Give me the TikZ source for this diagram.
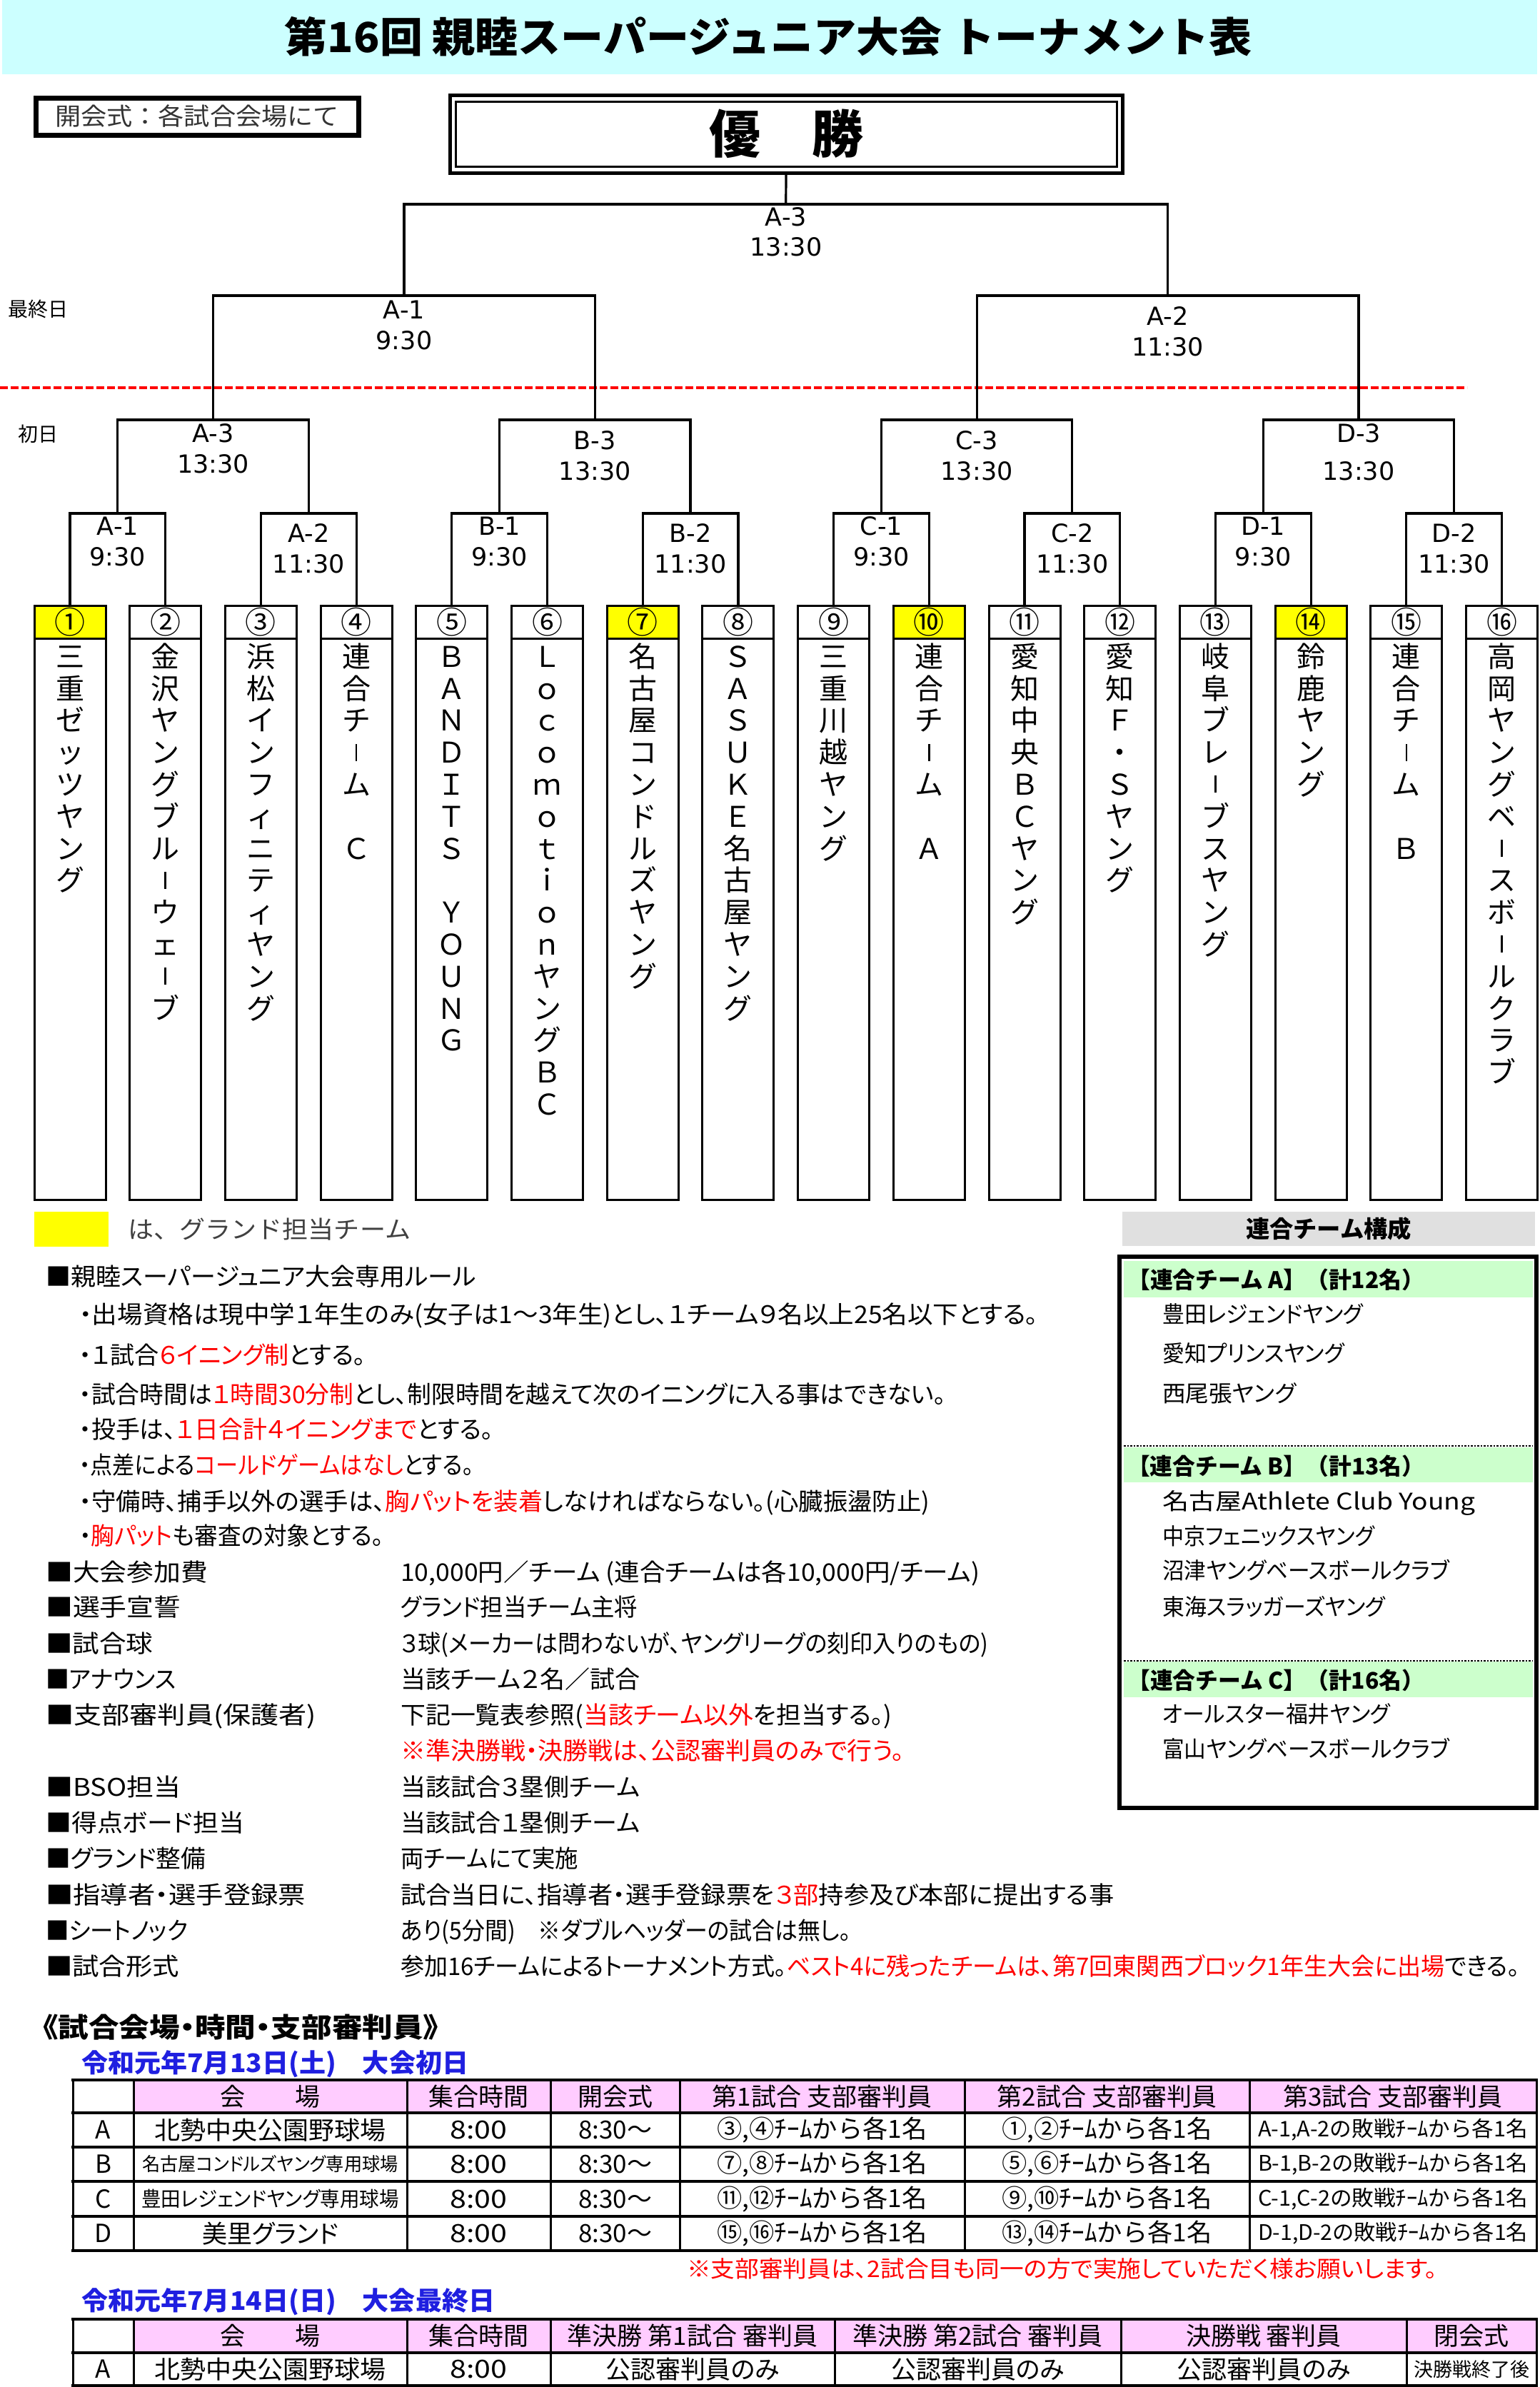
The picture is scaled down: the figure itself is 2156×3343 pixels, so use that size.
\documentclass[tikz,border=0pt]{standalone}
\usepackage{fontspec}
\usepackage{graphicx}
\setmainfont{Noto Sans CJK JP}
\newfontfamily\jpp[RawFeature=+palt]{Noto Sans CJK JP}
\newfontfamily\lblfont{DejaVu Sans}
\newcommand\myfs[1]{\fontsize{#1pt}{#1pt}\selectfont}
\newcommand\vb{\raisebox{3pt}{\rule{2.6pt}{24pt}}}
\newcommand\fitx[2]{\resizebox{#1pt}{\height}{#2}}
\definecolor{titlebg}{HTML}{CCFFFF}
\definecolor{gyellow}{HTML}{FFFF00}
\definecolor{lgreen}{HTML}{CCFFCC}
\definecolor{lpink}{HTML}{FFCCFF}
\definecolor{dblue}{HTML}{1F1FE0}
\definecolor{rred}{HTML}{FF0000}
\tikzset{
  brk/.style={line width=3.2pt},
  lbl/.style={inner sep=0pt, font=\lblfont\myfs{35}},
  teambox/.style={draw, line width=3pt, minimum width=100pt, minimum height=832pt, inner sep=0pt},
  numcell/.style={draw, line width=3pt, minimum width=100pt, minimum height=46pt, inner sep=0pt, font=\myfs{43}},
  tch/.style={inner sep=0pt, font=\myfs{40}, text height=35.2pt, text depth=4.8pt},
  ruletxt/.style={anchor=base west, inner sep=0pt, font=\jpp\myfs{34}},
  cell/.style={inner sep=0pt, font=\myfs{35}},
  pcell/.style={inner sep=0pt, font=\jpp\myfs{35}},
  hline/.style={line width=4pt},
  vline/.style={line width=3pt},
}
\newcommand\myteam[2]{\foreach \ch [count=\k from 0] in {#2}{\node[tch] (tc#1-\k) at ({98+(#1-1)*133.7},{919+\k*44.8}) {\ch};}}
\begin{document}
\begin{tikzpicture}[x=1pt,y=-1pt]
\useasboundingbox (0,0) rectangle (2156,3343);
\fill[white] (0,0) rectangle (2156,3343);
% title
\fill[titlebg] (3,0) rectangle (2153,104);
\node[font=\bfseries\myfs{58}, inner sep=0pt] (title) at (1076,51) {\fitx{1354}{第16回 親睦スーパージュニア大会 トーナメント表}};
% opening box
\node[draw, line width=7pt, minimum width=452pt, minimum height=52pt, inner sep=0pt, font=\myfs{34}, text=black!80] (open) at (276,163) {\fitx{398}{開会式：各試合会場にて}};
% champion
\node[draw, line width=5pt, minimum width=942pt, minimum height=109pt, inner sep=0pt] (champ) at (1101,187.5) {};
\node[draw, line width=3pt, minimum width=926pt, minimum height=91pt, inner sep=0pt, font=\bfseries\myfs{72}] (champin) at (1101,187.5) {優　勝};
% day labels
\node[anchor=west, font=\myfs{28}, inner sep=0pt] (lastday) at (11,433) {最終日};
\node[anchor=west, font=\myfs{28}, inner sep=0pt] (firstday) at (25,608) {初日};
% red dashed divider
\coordinate (rl1) at (0,543);
\coordinate (rl2) at (2055,543);
\draw[rred, line width=3.5pt, dash pattern=on 11pt off 4pt] (rl1) -- (rl2);
% team boxes
\foreach \i in {1,...,16}{\node[teambox] (t\i) at ({98+(\i-1)*133.7},1264) {};}
\foreach \i/\n/\c in {1/①/gyellow,2/②/white,3/③/white,4/④/white,5/⑤/white,6/⑥/white,7/⑦/gyellow,8/⑧/white,9/⑨/white,10/⑩/gyellow,11/⑪/white,12/⑫/white,13/⑬/white,14/⑭/gyellow,15/⑮/white,16/⑯/white}{
  \node[numcell, fill=\c] (n\i) at ({98+(\i-1)*133.7},871) {\n};}
% team names
\myteam{1}{三,重,ゼ,ッ,ツ,ヤ,ン,グ}
\myteam{2}{金,沢,ヤ,ン,グ,ブ,ル,\vb,ウ,ェ,\vb,ブ}
\myteam{3}{浜,松,イ,ン,フ,ィ,ニ,テ,ィ,ヤ,ン,グ}
\myteam{4}{連,合,チ,\vb,ム,　,Ｃ}
\myteam{5}{Ｂ,Ａ,Ｎ,Ｄ,Ｉ,Ｔ,Ｓ,　,Ｙ,Ｏ,Ｕ,Ｎ,Ｇ}
\myteam{6}{Ｌ,ｏ,ｃ,ｏ,ｍ,ｏ,ｔ,ｉ,ｏ,ｎ,ヤ,ン,グ,Ｂ,Ｃ}
\myteam{7}{名,古,屋,コ,ン,ド,ル,ズ,ヤ,ン,グ}
\myteam{8}{Ｓ,Ａ,Ｓ,Ｕ,Ｋ,Ｅ,名,古,屋,ヤ,ン,グ}
\myteam{9}{三,重,川,越,ヤ,ン,グ}
\myteam{10}{連,合,チ,\vb,ム,　,Ａ}
\myteam{11}{愛,知,中,央,Ｂ,Ｃ,ヤ,ン,グ}
\myteam{12}{愛,知,Ｆ,・,Ｓ,ヤ,ン,グ}
\myteam{13}{岐,阜,ブ,レ,\vb,ブ,ス,ヤ,ン,グ}
\myteam{14}{鈴,鹿,ヤ,ン,グ}
\myteam{15}{連,合,チ,\vb,ム,　,Ｂ}
\myteam{16}{高,岡,ヤ,ン,グ,ベ,\vb,ス,ボ,\vb,ル,ク,ラ,ブ}
% bracket apexes
\foreach \k in {1,...,8}{\coordinate (p\k) at ({98+(2*\k-1.5)*133.7},719);}
\foreach \j in {1,...,4}{\coordinate (q\j) at ({98+(4*\j-2.5)*133.7},588);}
\foreach \i in {1,2}{\coordinate (s\i) at ({98+(8*\i-4.5)*133.7},414);}
\coordinate (f) at (1100.75,286);
% brackets
\foreach \k in {1,...,8}{\pgfmathtruncatemacro\ka{2*\k-1}\pgfmathtruncatemacro\kb{2*\k}
  \draw[brk] (t\ka.north) |- (p\k) -| (t\kb.north);}
\foreach \j in {1,...,4}{\pgfmathtruncatemacro\ka{2*\j-1}\pgfmathtruncatemacro\kb{2*\j}
  \draw[brk] (p\ka) |- (q\j) -| (p\kb);}
\draw[brk] (q1) |- (s1) -| (q2);
\draw[brk] (q3) |- (s2) -| (q4);
\draw[brk] (s1) |- (f) -| (s2);
\draw[brk] (champ.south) -- (f);
% match labels
\foreach \k/\nm/\tm/\ya in {1/A-1/9:30/737,2/A-2/11:30/747,3/B-1/9:30/737,4/B-2/11:30/747,5/C-1/9:30/737,6/C-2/11:30/747,7/D-1/9:30/737,8/D-2/11:30/747}{
  \node[lbl] (la\k) at ({98+(2*\k-1.5)*133.7},\ya) {\nm};
  \node[lbl] (lb\k) at ({98+(2*\k-1.5)*133.7},{\ya+43}) {\tm};}
\foreach \j/\nm/\ya/\yb in {1/A-3/607/650,2/B-3/617/660,3/C-3/617/660,4/D-3/607/660}{
  \node[lbl] (ma\j) at ({98+(4*\j-2.5)*133.7},\ya) {\nm};
  \node[lbl] (mb\j) at ({98+(4*\j-2.5)*133.7},\yb) {13:30};}
\node[lbl] (sa1) at (566,434) {A-1};
\node[lbl] (sb1) at (566,477) {9:30};
\node[lbl] (sa2) at (1635.6,443) {A-2};
\node[lbl] (sb2) at (1635.6,486) {11:30};
\node[lbl] (fa) at (1101,304) {A-3};
\node[lbl] (fb) at (1101,346) {13:30};
% legend
\node[fill=gyellow, minimum width=104pt, minimum height=49pt, inner sep=0pt] (leg) at (100,1721.5) {};
\node[anchor=base west, font=\myfs{34}, text=black!75, inner sep=0pt] (legt) at (179,1734) {\fitx{396}{は、グランド担当チーム}};
% rules
\node[ruletxt] (r0) at (64,1800) {\fitx{603}{■親睦スーパージュニア大会専用ルール}};
\node[ruletxt] (r1) at (111,1853) {\fitx{1343}{・出場資格は現中学１年生のみ(女子は1～3年生)とし、１チーム９名以上25名以下とする。}};
\node[ruletxt] (r2) at (111,1910) {\fitx{401}{・１試合\textcolor{rred}{６イニング制}とする。}};
\node[ruletxt] (r3) at (111,1965) {\fitx{1214}{・試合時間は\textcolor{rred}{１時間30分制}とし、制限時間を越えて次のイニングに入る事はできない。}};
\node[ruletxt] (r4) at (111,2014) {\fitx{580}{・投手は、\textcolor{rred}{１日合計４イニングまで}とする。}};
\node[ruletxt] (r5) at (111,2064) {\fitx{552}{・点差による\textcolor{rred}{コールドゲームはなし}とする。}};
\node[ruletxt] (r6) at (111,2115) {\fitx{1191}{・守備時、捕手以外の選手は、\textcolor{rred}{胸パットを装着}しなければならない。(心臓振盪防止)}};
\node[ruletxt] (r7) at (111,2163) {\fitx{426}{・\textcolor{rred}{胸パット}も審査の対象とする。}};
% items
\foreach \y/\t/\w [count=\n] in {2214/大会参加費/227,2263/選手宣誓/189,2314/試合球/150,2364/アナウンス/182,2414/支部審判員(保護者)/379,2515/BSO担当/189,2565/得点ボード担当/278,2615/グランド整備/224,2666/指導者・選手登録票/364,2716/シートノック/199,2766/試合形式/187}{
  \node[ruletxt] (it\n) at (64,\y) {\fitx{\w}{■\t}};}
\node[ruletxt] (v1) at (561,2214) {\fitx{811}{10,000円／チーム (連合チームは各10,000円/チーム)}};
\node[ruletxt] (v2) at (561,2263) {\fitx{332}{グランド担当チーム主将}};
\node[ruletxt] (v3) at (561,2314) {\fitx{823}{３球(メーカーは問わないが、ヤングリーグの刻印入りのもの)}};
\node[ruletxt] (v4) at (561,2364) {\fitx{335}{当該チーム２名／試合}};
\node[ruletxt] (v5) at (561,2414) {\fitx{688}{下記一覧表参照(\textcolor{rred}{当該チーム以外}を担当する。)}};
\node[ruletxt, text=rred] (v6) at (561,2464) {\fitx{705}{※準決勝戦・決勝戦は、公認審判員のみで行う。}};
\node[ruletxt] (v7) at (561,2515) {\fitx{335}{当該試合３塁側チーム}};
\node[ruletxt] (v8) at (561,2565) {\fitx{335}{当該試合１塁側チーム}};
\node[ruletxt] (v9) at (561,2615) {\fitx{249}{両チームにて実施}};
\node[ruletxt] (v10) at (561,2666) {\fitx{999}{試合当日に、指導者・選手登録票を\textcolor{rred}{３部}持参及び本部に提出する事}};
\node[ruletxt] (v11) at (561,2716) {\fitx{631}{あり(5分間)　※ダブルヘッダーの試合は無し。}};
\node[ruletxt] (v12) at (561,2766) {\fitx{1567}{参加16チームによるトーナメント方式。\textcolor{rred}{ベスト4に残ったチームは、第7回東関西ブロック1年生大会に出場}できる。}};
% combined team panel
\node[fill=black!12, minimum width=578pt, minimum height=48pt, inner sep=0pt, font=\bfseries\myfs{33}] (ph) at (1861,1721) {\fitx{232}{連合チーム構成}};
\fill[lgreen] (1574,1766) rectangle (2147,1817);
\fill[lgreen] (1574,2027) rectangle (2147,2076);
\fill[lgreen] (1574,2327) rectangle (2147,2377);
\draw[dotted, line width=2.5pt] (1574,2025) -- (2147,2025);
\draw[dotted, line width=2.5pt] (1574,2326) -- (2147,2326);
\node[draw, line width=6pt, minimum width=584pt, minimum height=772pt, inner sep=0pt] (panel) at (1860,2146) {};
\node[anchor=base west, inner sep=0pt, font=\bfseries\myfs{32}] (ga) at (1579,1804) {\fitx{416}{【連合チーム A】（計12名）}};
\node[anchor=base west, inner sep=0pt, font=\bfseries\myfs{32}] (gb) at (1579,2065) {\fitx{416}{【連合チーム B】（計13名）}};
\node[anchor=base west, inner sep=0pt, font=\bfseries\myfs{32}] (gc) at (1579,2365) {\fitx{416}{【連合チーム C】（計16名）}};
\foreach \y/\t/\w [count=\n] in {1852/豊田レジェンドヤング/281,1907/愛知プリンスヤング/255,1963/西尾張ヤング/187,2114/名古屋Athlete Club Young/438,2163/中京フェニックスヤング/297,2211/沼津ヤングベースボールクラブ/402,2262/東海スラッガーズヤング/312,2412/オールスター福井ヤング/319,2461/富山ヤングベースボールクラブ/402}{
  \node[anchor=base west, inner sep=0pt, font=\jpp\myfs{32}] (mem\n) at (1628,\y) {\fitx{\w}{\t}};}
% venue section
\node[anchor=base west, inner sep=0pt, font=\jpp\bfseries\myfs{38}] (vh) at (60,2853) {\fitx{554}{《試合会場・時間・支部審判員》}};
\node[anchor=base west, inner sep=0pt, font=\jpp\bfseries\myfs{36}, text=dblue] (d1) at (114,2902) {\fitx{542}{令和元年7月13日(土)　大会初日}};
% table 1
\fill[lpink] (187,2913) rectangle (2152,2959);
\foreach \y in {2913,2959,3007,3055,3104,3152}{\draw[hline] (100,\y) -- (2154,\y);}
\foreach \x in {102,187,570,771,952,1351,1750,2152}{\draw[vline] (\x,2913) -- (\x,3152);}
\node[cell] (h2) at (378.5,2936) {会　　場};
\node[cell] (h3) at (670.5,2936) {集合時間};
\node[cell] (h4) at (861.5,2936) {開会式};
\node[cell] (h5) at (1151.5,2936) {第1試合 支部審判員};
\node[cell] (h6) at (1550.5,2936) {第2試合 支部審判員};
\node[cell] (h7) at (1951,2936) {第3試合 支部審判員};
\foreach \r/\y/\ga/\gb/\gc in {A/2983/{③,④}/{①,②}/A, B/3031/{⑦,⑧}/{⑤,⑥}/B, C/3079.5/{⑪,⑫}/{⑨,⑩}/C, D/3128/{⑮,⑯}/{⑬,⑭}/D}{
  \node[cell] (c\r1) at (144.5,\y) {\r};
  \node[cell] (c\r3) at (670.5,\y) {\fitx{80}{8:00}};
  \node[cell] (c\r4) at (861.5,\y) {8:30～};
  \node[cell] (c\r5) at (1151.5,\y) {\fitx{294}{\ga ﾁｰﾑから各1名}};
  \node[cell] (c\r6) at (1550.5,\y) {\fitx{294}{\gb ﾁｰﾑから各1名}};
  \node[cell, font=\myfs{30}] (c\r7) at (1951,\y) {\fitx{378}{\gc-1,\gc-2の敗戦ﾁｰﾑから各1名}};}
\node[cell] (cA2) at (378.5,2983) {\fitx{324}{北勢中央公園野球場}};
\node[pcell, font=\jpp\myfs{26}] (cB2) at (378.5,3031) {\fitx{358}{名古屋コンドルズヤング専用球場}};
\node[pcell, font=\jpp\myfs{29}] (cC2) at (378.5,3079.5) {\fitx{360}{豊田レジェンドヤング専用球場}};
\node[pcell] (cD2) at (378.5,3128) {美里グランド};
\node[anchor=base west, inner sep=0pt, font=\jpp\myfs{32}, text=rred] (note) at (962,3189) {\fitx{1051}{※支部審判員は、2試合目も同一の方で実施していただく様お願いします。}};
% day 2
\node[anchor=base west, inner sep=0pt, font=\jpp\bfseries\myfs{36}, text=dblue] (d2) at (114,3235) {\fitx{579}{令和元年7月14日(日)　大会最終日}};
\fill[lpink] (187,3248) rectangle (2152,3295);
\foreach \y in {3248,3295,3341}{\draw[hline] (100,\y) -- (2154,\y);}
\foreach \x in {102,187,570,771,1169,1570,1970,2152}{\draw[vline] (\x,3248) -- (\x,3343);}
\node[cell] (k2) at (378.5,3271.5) {会　　場};
\node[cell] (k3) at (670.5,3271.5) {集合時間};
\node[cell] (k4) at (970,3271.5) {準決勝 第1試合 審判員};
\node[cell] (k5) at (1369.5,3271.5) {準決勝 第2試合 審判員};
\node[cell] (k6) at (1770,3271.5) {決勝戦 審判員};
\node[cell] (k7) at (2061,3271.5) {閉会式};
\node[cell] (e1) at (144.5,3318) {A};
\node[cell] (e2) at (378.5,3318) {\fitx{324}{北勢中央公園野球場}};
\node[cell] (e3) at (670.5,3318) {\fitx{80}{8:00}};
\node[pcell] (e4) at (970,3318) {公認審判員のみ};
\node[pcell] (e5) at (1369.5,3318) {公認審判員のみ};
\node[pcell] (e6) at (1770,3318) {公認審判員のみ};
\node[cell, font=\myfs{27}] (e7) at (2061,3318) {決勝戦終了後};
\end{tikzpicture}
\end{document}
